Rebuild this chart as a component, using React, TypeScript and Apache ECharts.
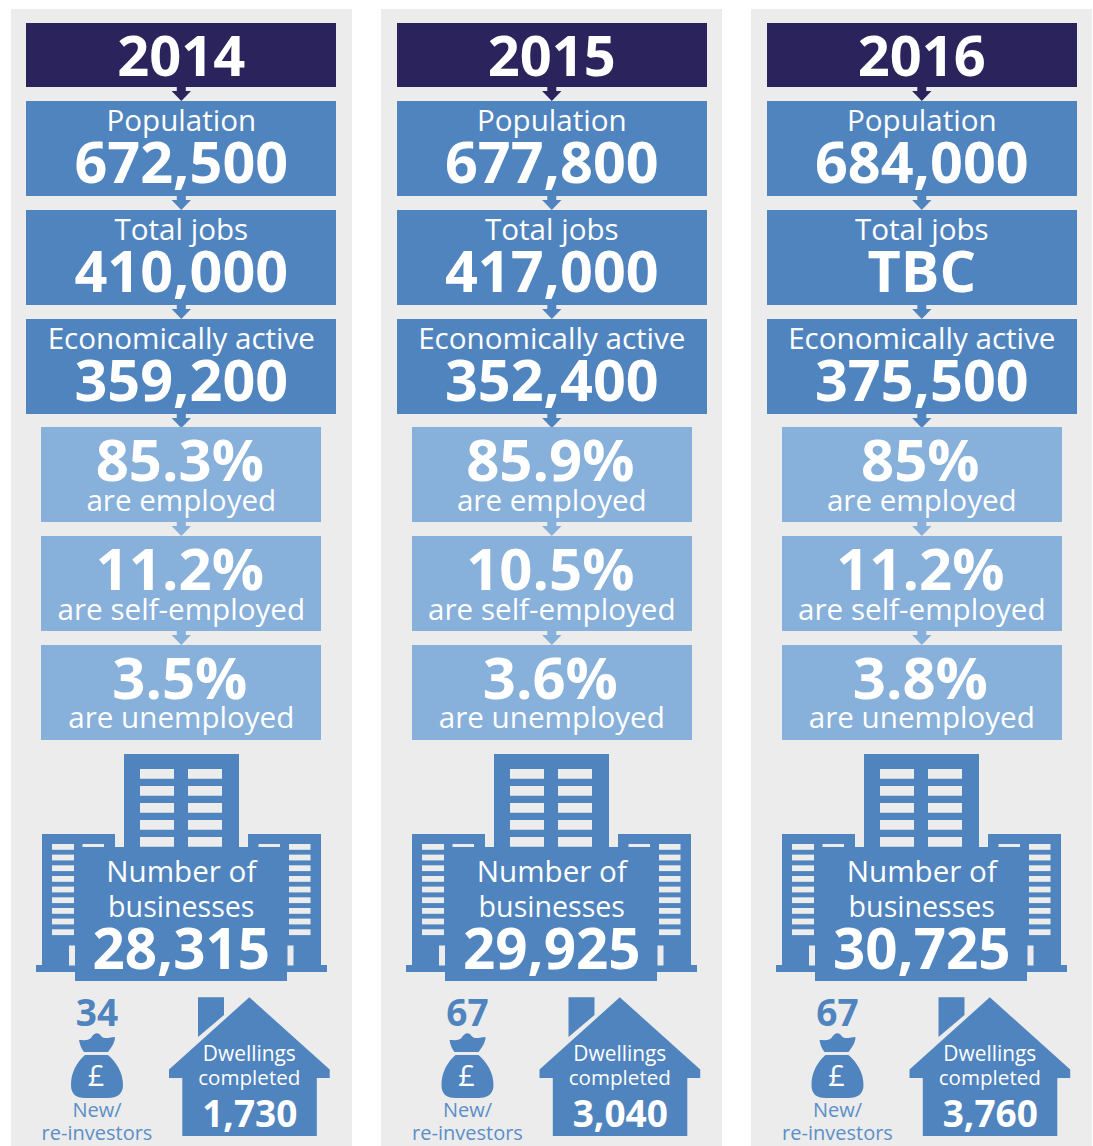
import React, { useEffect, useRef } from "react";
import * as echarts from "echarts";

const years = ["2014", "2015", "2016"];
const population = ["672,500", "677,800", "684,000"];
const totalJobs = ["410,000", "417,000", "TBC"];
const economicallyActive = ["359,200", "352,400", "375,500"];
const employed = ["85.3%", "85.9%", "85%"];
const selfEmployed = ["11.2%", "10.5%", "11.2%"];
const unemployed = ["3.5%", "3.6%", "3.8%"];
const businesses = ["28,315", "29,925", "30,725"];
const investors = ["34", "67", "67"];
const dwellings = ["1,730", "3,040", "3,760"];

const PANEL = "#ececec";
const NAVY = "#2a235c";
const BLUE = "#5084bf";
const LIGHT = "#87b0da";
const FONT = "'Open Sans', 'Noto Sans', sans-serif";
const OFFSETS = [0, 370.5, 740.5];
const BOX_OFFSETS = [0, 371, 741];
const PANEL_OFFSETS = [0, 370, 740];

echarts.graphic.registerShape(
  "moneyBag",
  echarts.graphic.extendPath(
    "M79,1040 C83,1040 88,1041 91,1038 C94,1032 99,1032 101,1036 C105,1040 110,1037 115,1037 C115,1043 111,1048 108,1052 L84,1052 C81,1048 80,1045 79,1040 Z " +
      "M85,1055 L108,1055 C116,1062 123,1072 123,1085 C123,1094 117,1098 108,1098 L85,1098 C76,1098 71,1094 71,1085 C71,1072 77,1062 85,1055 Z",
    {}
  )
);

function txt(x: number, base: number, text: string, fontSize: number, bold: boolean, fill = "#fff") {
  return {
    type: "text",
    x,
    y: base - (bold ? 0.395 : 0.365) * fontSize,
    silent: true,
    style: {
      text,
      fill,
      fontSize,
      fontFamily: FONT,
      fontWeight: bold ? 700 : 400,
      align: "center",
      verticalAlign: "middle",
    },
  };
}
const rect = (x: number, y: number, width: number, height: number, fill: string) => ({
  type: "rect",
  silent: true,
  shape: { x, y, width, height },
  style: { fill },
});
const poly = (points: number[][], fill: string) => ({
  type: "polygon",
  silent: true,
  shape: { points },
  style: { fill },
});
const arrow = (cx: number, top: number, fill: string) => [
  rect(cx - 4.5, top, 9, 4, fill),
  poly(
    [
      [cx - 9.7, top + 4],
      [cx + 9.7, top + 4],
      [cx, top + 14],
    ],
    fill
  ),
];

function column(i: number) {
  const o = OFFSETS[i];
  const b = BOX_OFFSETS[i];
  const p = PANEL_OFFSETS[i];
  const cx = 181.3 + o;
  const els: any[] = [];
  const add = (...e: any[]) => els.push(...e);
  add(rect(11 + p, 9, 341, 1137, PANEL));

  // year header
  add(rect(26 + b, 23, 310, 64, NAVY));
  add(...arrow(cx, 87, NAVY));
  add(txt(cx, 76, years[i], 56, true));

  // dark-blue stacked boxes
  const blue: [string, string, number][] = [
    ["Population", population[i], 101],
    ["Total jobs", totalJobs[i], 210],
    ["Economically active", economicallyActive[i], 319],
  ];
  blue.forEach(([label, value, top]) => {
    add(rect(26 + b, top, 310, 95, BLUE));
    add(...arrow(cx, top + 95, BLUE));
    add(txt(cx, top + 29.5, label, 29.6, false));
    add(txt(cx, top + 82.8, value, 57.5, true));
  });

  // light-blue stacked boxes
  const light: [string, string, number, number, number][] = [
    [employed[i], "are employed", 427, 481.2, 510.7],
    [selfEmployed[i], "are self-employed", 536, 590.3, 619.3],
    [unemployed[i], "are unemployed", 645, 699.5, 727.5],
  ];
  light.forEach(([value, label, top, b1, b2], k) => {
    add(rect(41 + b, top, 280, 95, LIGHT));
    if (k < 2) add(...arrow(cx, top + 95, LIGHT));
    add(txt(cx - 1.5, b1, value, 58, true));
    add(txt(cx, b2, label, 29.6, false));
  });

  // buildings
  add(rect(124 + p, 754, 115, 100, BLUE));
  [769, 786, 803, 820, 837].forEach((y) => {
    add(rect(140 + p, y, 34, 9.7, PANEL));
    add(rect(188 + p, y, 34, 9.7, PANEL));
  });
  add(rect(42 + p, 834, 73, 134, BLUE));
  add(rect(248 + p, 834, 73, 134, BLUE));
  add(rect(36 + p, 965, 40, 7, BLUE));
  add(rect(286 + p, 965, 41, 7, BLUE));
  [844, 854.6, 865.3, 876, 886.6, 897.3, 908, 918.6, 929.3].forEach((y) => {
    add(rect(52 + p, y, 22, 5.8, PANEL));
    add(rect(289 + p, y, 21.5, 5.8, PANEL));
  });
  add(rect(82.5 + p, 844, 21.5, 3, PANEL));
  add(rect(258.5 + p, 844, 21.5, 3, PANEL));
  add(rect(69 + p, 945.5, 6, 20, PANEL));
  add(rect(287.5 + p, 945.5, 6, 20, PANEL));
  add(rect(75 + p, 847, 212, 134, BLUE));
  add(txt(cx, 881.7, "Number of", 29.6, false));
  add(txt(cx, 915.7, "businesses", 28.6, false));
  add(txt(cx, 970, businesses[i], 56.5, true));

  // investors
  add(txt(97 + o, 1026, investors[i], 37, true, BLUE));
  add({ type: "moneyBag", x: o, y: 0, silent: true, style: { fill: BLUE } });
  add(txt(96 + o, 1085, "£", 29, false));
  add(txt(97 + o, 1117, "New/", 20, false, "#5b8fc7"));
  add(txt(97 + o, 1140, "re-investors", 20, false, "#5b8fc7"));

  // house
  add(
    poly(
      [
        [198 + o, 997.3],
        [224 + o, 997.3],
        [224 + o, 1015],
        [198 + o, 1037],
      ],
      BLUE
    )
  );
  add(
    poly(
      [
        [249.3 + o, 997.3],
        [329.7 + o, 1069.5],
        [329.7 + o, 1078],
        [316.8 + o, 1078],
        [316.8 + o, 1136],
        [182.3 + o, 1136],
        [182.3 + o, 1078],
        [169 + o, 1078],
        [169 + o, 1069.5],
      ],
      BLUE
    )
  );
  add(txt(249.3 + o, 1061, "Dwellings", 20.9, false));
  add(txt(249.3 + o, 1085, "completed", 20.6, false));
  add(txt(249.8 + o, 1126.7, dwellings[i], 37, true));
  return els;
}

export default function App() {
  const ref = useRef<HTMLDivElement>(null);
  useEffect(() => {
    document.body.style.margin = "0";
    const chart = echarts.init(ref.current!, undefined, { renderer: "svg" });
    chart.setOption({
      animation: false,
      backgroundColor: "#ffffff",
      graphic: { elements: years.flatMap((_, i) => column(i)) },
    });
    return () => chart.dispose();
  }, []);
  return <div ref={ref} style={{ width: 1093, height: 1146 }} />;
}
